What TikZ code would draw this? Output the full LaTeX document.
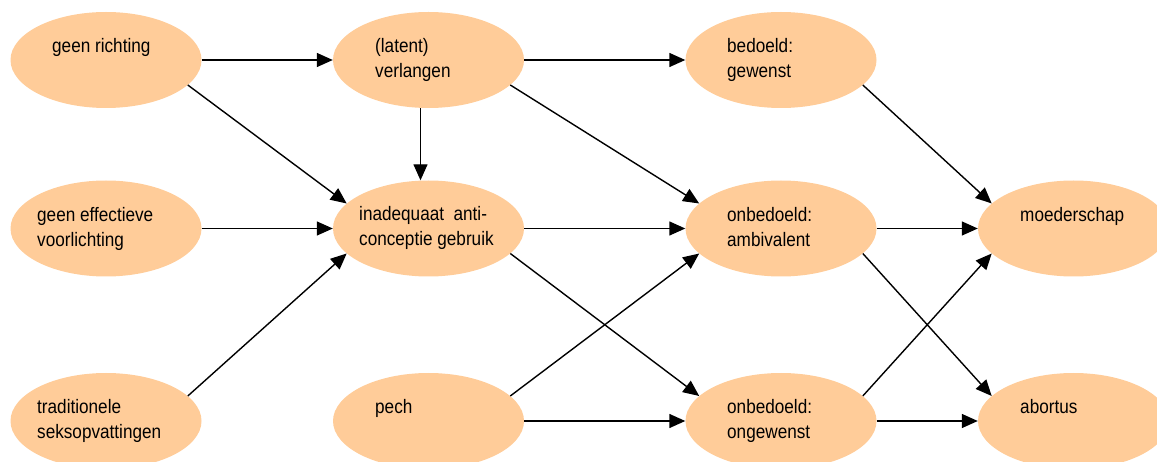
\documentclass[tikz,border=0pt]{standalone}
\usepackage{fontspec}
\setmainfont{Liberation Sans}[FakeStretch=0.88]
\usetikzlibrary{shapes.geometric,arrows.meta}
\definecolor{peach}{HTML}{FFCC99}
\newcommand\twoline[2]{\begin{tabular}[t]{@{}l@{}}#1\\#2\end{tabular}}
\begin{document}
\begin{tikzpicture}[x=1pt,y=-1pt,
  blob/.style={ellipse,fill=peach,draw=none,minimum width=191pt,minimum height=96pt,inner sep=0pt},
  lbl/.style={anchor=base west,inner sep=0pt,font=\fontsize{19.5}{25}\selectfont},
  arr/.style={line width=1.4pt,-{Triangle[length=16pt,width=14pt]}}]
\useasboundingbox (0,0) rectangle (1157,462);
\clip (0,0) rectangle (1157,462);
% ellipses
\node[blob] (gr) at (106,60) {};
\node[blob] (ge) at (106,228.5) {};
\node[blob] (tr) at (106,421) {};
\node[blob] (lv) at (428.5,60) {};
\node[blob] (ia) at (428.5,228.5) {};
\node[blob] (pe) at (428.5,421) {};
\node[blob] (bg) at (781,60) {};
\node[blob] (ab) at (781,228.5) {};
\node[blob] (og) at (781,421) {};
\node[blob] (mo) at (1073.5,228.5) {};
\node[blob] (abo) at (1073.5,421) {};
% texts
\node[lbl] (grt) at (52,53) {geen richting};
\node[lbl] (get) at (37,222) {\twoline{geen effectieve}{voorlichting}};
\node[lbl] (trt) at (37,413) {\twoline{traditionele}{seksopvattingen}};
\node[lbl] (lvt) at (375,53) {\twoline{(latent)}{verlangen}};
\node[lbl] (iat) at (359,221) {\twoline{inadequaat\ \ anti-}{conceptie gebruik}};
\node[lbl] (pet) at (375,413) {pech};
\node[lbl] (bgt) at (727,53) {\twoline{bedoeld:}{gewenst}};
\node[lbl] (abt) at (727,222) {\twoline{onbedoeld:}{ambivalent}};
\node[lbl] (ogt) at (727,413) {\twoline{onbedoeld:}{ongewenst}};
\node[lbl] (mot) at (1020,222) {moederschap};
\node[lbl] (abot) at (1020,413) {abortus};
% connectors
\draw[arr] (gr.east) -- (lv.west);
\draw[arr] (gr.-17) -- (ia.163);
\draw[arr] (ge.east) -- (ia.west);
\draw[arr] (tr.17) -- (ia.197);
\draw[arr] ([xshift=-8pt]lv.south) -- ([xshift=-8pt]ia.north);
\draw[arr] (lv.east) -- (bg.west);
\draw[arr] (lv.-17) -- (ab.163);
\draw[arr] (ia.east) -- (ab.west);
\draw[arr] (ia.-17) -- (og.163);
\draw[arr] (pe.17) -- (ab.197);
\draw[arr] (pe.east) -- (og.west);
\draw[arr] (bg.-17) -- (mo.163);
\draw[arr] (ab.east) -- (mo.west);
\draw[arr] (ab.-17) -- (abo.163);
\draw[arr] (og.17) -- (mo.197);
\draw[arr] (og.east) -- (abo.west);
\end{tikzpicture}
\end{document}
